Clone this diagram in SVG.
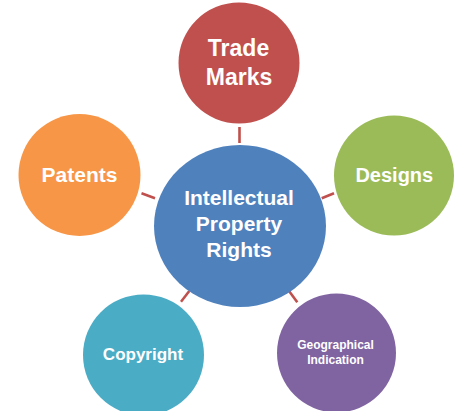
<svg xmlns="http://www.w3.org/2000/svg" width="459" height="411" viewBox="0 0 459 411">
<style>
.lbl{font-family:"Liberation Sans",Arial,sans-serif;font-weight:bold;fill:#ffffff;text-anchor:middle}
.con{stroke:#c0504d;stroke-width:2.6;fill:none}
</style>
<rect width="459" height="411" fill="#ffffff"/>
<g id="connectors">
<line class="con" x1="239.5" y1="127" x2="239.5" y2="143"/>
<line class="con" x1="141.5" y1="193.3" x2="155" y2="198.3"/>
<line class="con" x1="321.7" y1="198.3" x2="334" y2="193.3"/>
<line class="con" x1="181" y1="301.7" x2="189.3" y2="291"/>
<line class="con" x1="289" y1="291" x2="297.3" y2="302.3"/>
</g>
<g id="center">
<ellipse cx="240" cy="226" rx="86" ry="81" fill="#4f81bd"/>
<text class="lbl" x="239" y="205" font-size="21">Intellectual</text>
<text class="lbl" x="239" y="231" font-size="21">Property</text>
<text class="lbl" x="239" y="257" font-size="21">Rights</text>
</g>
<g id="trademarks">
<circle cx="239" cy="63" r="60.5" fill="#c0504d"/>
<text class="lbl" x="238.5" y="56" font-size="23">Trade</text>
<text class="lbl" x="239" y="85" font-size="23">Marks</text>
</g>
<g id="patents">
<circle cx="79.5" cy="175" r="61" fill="#f79646"/>
<text class="lbl" x="79.5" y="182" font-size="21">Patents</text>
</g>
<g id="designs">
<circle cx="394" cy="175.5" r="60" fill="#9bbb59"/>
<text class="lbl" x="394.3" y="182" font-size="20">Designs</text>
</g>
<g id="copyright">
<circle cx="143.5" cy="355" r="60.5" fill="#4bacc6"/>
<text class="lbl" x="143" y="360" font-size="17">Copyright</text>
</g>
<g id="geographical">
<circle cx="336.5" cy="353" r="59.5" fill="#8064a2"/>
<text class="lbl" x="335.5" y="349" font-size="12">Geographical</text>
<text class="lbl" x="335.5" y="364" font-size="12">Indication</text>
</g>
</svg>
